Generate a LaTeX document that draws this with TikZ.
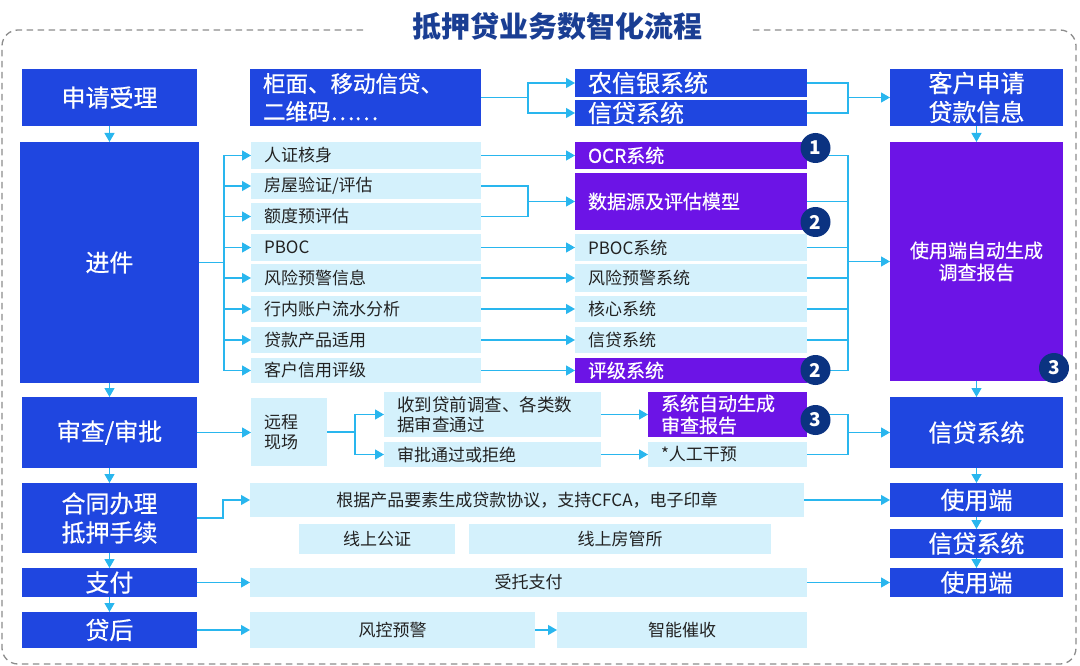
\documentclass[tikz,border=0pt]{standalone}
\usepackage{fontspec}
\setmainfont{Noto Sans CJK SC}
\newfontfamily\medfont[FakeBold=0.6]{Noto Sans CJK SC}
\usetikzlibrary{arrows.meta}
\definecolor{cblue}{HTML}{1F46E0}
\definecolor{cpurp}{HTML}{6C14E6}
\definecolor{clight}{HTML}{D4F1FC}
\definecolor{ccyan}{HTML}{29B6EE}
\definecolor{cnavy}{HTML}{0B3381}
\definecolor{ctitle}{HTML}{1A3E93}
\definecolor{ctext}{HTML}{222222}
\definecolor{cdash}{HTML}{8C8C8C}
\newcommand\cbox[7]{\node[#1, anchor=north west, minimum width={#5-#3}, minimum height={#6-#4}] (#2) at (#3,#4) {#7};}
\newcommand\lbox[7]{\pgfmathsetmacro\bw{#5-#3-26}\node[#1, anchor=north west, minimum width={#5-#3}, minimum height={#6-#4}, text width=\bw pt, align=left, inner xsep=13pt] (#2) at (#3,#4) {#7};}
\tikzset{
  bluebox/.style={fill=cblue, text=white, inner sep=0pt, outer sep=0pt, align=center, font=\medfont\fontsize{24}{29}\selectfont},
  purpbox/.style={fill=cpurp, text=white, inner sep=0pt, outer sep=0pt, align=center, font=\medfont\fontsize{19}{22}\selectfont},
  lightbox/.style={fill=clight, text=ctext, inner sep=0pt, outer sep=0pt, align=center, font=\fontsize{17}{20}\selectfont},
  ln/.style={draw=ccyan, line width=1.3pt},
  arr/.style={ln, -{Triangle[length=9pt,width=10pt]}},
  badge/.style={circle, fill=cnavy, text=white, minimum size=30pt, inner sep=0pt, font=\fontsize{19}{19}\selectfont\bfseries}
}
\begin{document}
\begin{tikzpicture}[x=1pt,y=-1pt]
\useasboundingbox (0,0) rectangle (1080,666);
% frame and title
\draw[cdash, line width=1.3pt, dash pattern=on 6.5pt off 4.5pt, rounded corners=16pt] (363,30) -- (2,30) -- (2,664) -- (1076,664) -- (1076,30) -- (750,30);
\node[font=\fontsize{29}{29}\selectfont\bfseries, text=ctitle] (title) at (557,26) {抵押贷业务数智化流程};
% left column
\cbox{bluebox}{sq}{22}{69}{197}{126}{申请受理}
\cbox{bluebox}{jj}{20}{142}{199}{383}{进件}
\cbox{bluebox}{sc}{22}{397}{197}{468}{审查/审批}
\cbox{bluebox}{ht}{22}{483}{197}{553}{合同办理\\抵押手续}
\cbox{bluebox}{zf}{22}{568}{197}{597}{支付}
\cbox{bluebox}{dh}{22}{612}{197}{648}{贷后}
% top row
\lbox{bluebox,font=\medfont\fontsize{22.5}{28}\selectfont}{gm}{250}{69}{481}{126}{柜面、移动信贷、\\二维码⋯⋯}
\lbox{bluebox}{nx}{575}{69}{807}{97}{农信银系统}
\lbox{bluebox}{xd}{575}{100}{807}{126}{信贷系统}
\cbox{bluebox}{kh}{890}{69}{1063}{126}{客户申请\\贷款信息}
% jinjian rows
\lbox{lightbox}{r1}{251}{142}{481}{169}{人证核身}
\lbox{lightbox}{r2}{251}{173}{481}{199}{房屋验证/评估}
\lbox{lightbox}{r3}{251}{203}{481}{230}{额度预评估}
\lbox{lightbox}{r4}{251}{234}{481}{261}{PBOC}
\lbox{lightbox}{r5}{251}{264}{481}{292}{风险预警信息}
\lbox{lightbox}{r6}{251}{296}{481}{322}{行内账户流水分析}
\lbox{lightbox}{r7}{251}{327}{481}{353}{贷款产品适用}
\lbox{lightbox}{r8}{251}{358}{481}{383}{客户信用评级}
\lbox{purpbox}{s1}{575}{142}{807}{169}{OCR系统}
\lbox{purpbox}{s2}{575}{173}{807}{230}{数据源及评估模型}
\lbox{lightbox}{s3}{575}{234}{807}{261}{PBOC系统}
\lbox{lightbox}{s4}{575}{264}{807}{292}{风险预警系统}
\lbox{lightbox}{s5}{575}{296}{807}{322}{核心系统}
\lbox{lightbox}{s6}{575}{327}{807}{353}{信贷系统}
\lbox{purpbox}{s7}{575}{358}{807}{383}{评级系统}
\cbox{purpbox}{use}{890}{142}{1063}{381}{使用端自动生成\\调查报告}
% review row
\lbox{lightbox}{yc}{251}{398}{327}{466}{远程\\现场}
\lbox{lightbox,font=\fontsize{17.5}{20}\selectfont}{sd}{384}{392}{601}{437}{收到贷前调查、各类数\\据审查通过}
\lbox{lightbox}{sp}{384}{442}{601}{467}{审批通过或拒绝}
\lbox{purpbox}{zd}{648}{392}{807}{437}{系统自动生成\\审查报告}
\lbox{lightbox}{rg}{648}{442}{807}{467}{*人工干预}
\cbox{bluebox}{xr}{890}{397}{1063}{468}{信贷系统}
% contract row
\cbox{lightbox}{gj}{250}{483}{804}{517}{根据产品要素生成贷款协议，支持CFCA，电子印章}
\cbox{lightbox}{gz}{299}{524}{455}{554}{线上公证}
\cbox{lightbox}{fg}{469}{524}{771}{554}{线上房管所}
\cbox{bluebox}{u1}{890}{483}{1063}{517}{使用端}
\cbox{bluebox}{x2}{890}{529}{1063}{558}{信贷系统}
% pay / post-loan
\cbox{lightbox}{st}{250}{568}{807}{597}{受托支付}
\cbox{bluebox}{u2}{890}{568}{1063}{597}{使用端}
\cbox{lightbox}{fk}{250}{612}{535}{648}{风控预警}
\cbox{lightbox}{zn}{557}{612}{807}{648}{智能催收}
% vertical arrows
\foreach \a/\b in {sq/jj, jj/sc, sc/ht, ht/zf, zf/dh, kh/use, use/xr, xr/u1, u1/x2, x2/u2}
  \draw[arr] (\a.south) -- (\b.north);
% top row connectors
\coordinate (t1) at (528,97.5);
\draw[ln] (gm.east) -- (t1);
\draw[arr] (t1) |- (nx.west);
\draw[arr] (t1) |- (xd.west);
\coordinate (t2) at (848,97.5);
\draw[ln] (nx.east) -| (t2);
\draw[ln] (xd.east) -| (t2);
\draw[arr] (t2) -- (kh.west);
% jinjian connectors
\coordinate (t3) at (224,262.5);
\draw[ln] (jj.east) -- (t3);
\foreach \r in {r1,r2,r3,r4,r5,r6,r7,r8}
  \draw[arr] (t3) |- (\r.west);
\draw[arr] (r1.east) -- (s1.west);
\coordinate (t4) at (528,201.5);
\draw[ln] (r2.east) -| (t4);
\draw[ln] (r3.east) -| (t4);
\draw[arr] (t4) -- (s2.west);
\draw[arr] (r4.east) -- (s3.west);
\draw[arr] (r5.east) -- (s4.west);
\draw[arr] (r6.east) -- (s5.west);
\draw[arr] (r7.east) -- (s6.west);
\draw[arr] (r8.east) -- (s7.west);
\coordinate (t5) at (848,261.5);
\foreach \s in {s1,s2,s3,s4,s5,s6,s7}
  \draw[ln] (\s.east) -| (t5);
\draw[arr] (t5) -- (use.west);
% review connectors
\draw[arr] (sc.east) -- (sc.east -| yc.west);
\coordinate (t6) at (355,432);
\draw[ln] (yc.east) -- (t6);
\draw[arr] (t6) |- (sd.west);
\draw[arr] (t6) |- (sp.west);
\draw[arr] (sd.east) -- (zd.west);
\draw[arr] (sp.east) -- (rg.west);
\coordinate (t7) at (848,432.5);
\draw[ln] (zd.east) -| (t7);
\draw[ln] (rg.east) -| (t7);
\draw[arr] (t7) -- (xr.west);
% contract, pay, post-loan
\draw[arr] (ht.east) -- ++(26,0) |- (gj.west);
\draw[arr] (gj.east) -- (u1.west);
\draw[arr] (zf.east) -- (st.west);
\draw[arr] (st.east) -- (u2.west);
\draw[arr] (dh.east) -- (fk.west);
\draw[arr] (fk.east) -- (zn.west);
% badges
\node[badge] (bg1) at (815.5,148) {1};
\node[badge] (bg2) at (815.5,222) {2};
\node[badge] (bg3) at (815.5,370) {2};
\node[badge] (bg4) at (815.5,420) {3};
\node[badge] (bg5) at (1054,368) {3};
\end{tikzpicture}
\end{document}
